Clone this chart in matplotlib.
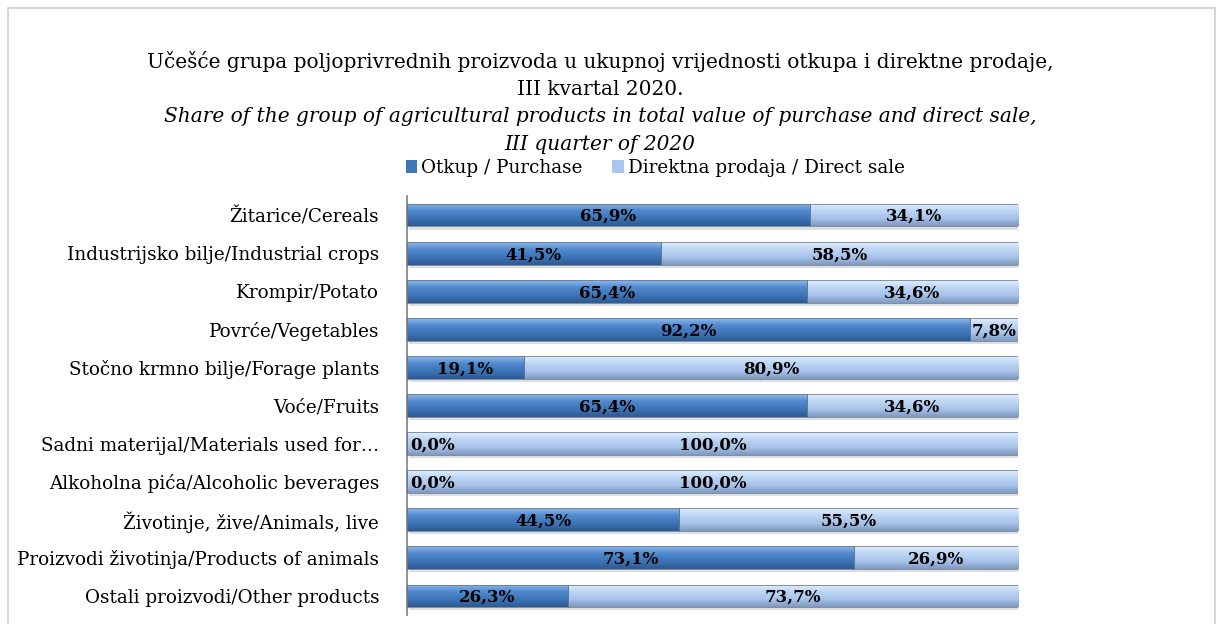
import numpy as np
import matplotlib
matplotlib.use('Agg')
import matplotlib.pyplot as plt
from matplotlib.patches import Rectangle
from matplotlib.colors import LinearSegmentedColormap

categories = ['Žitarice/Cereals', 'Industrijsko bilje/Industrial crops', 'Krompir/Potato',
              'Povrće/Vegetables', 'Stočno krmno bilje/Forage plants', 'Voće/Fruits',
              'Sadni materijal/Materials used for…', 'Alkoholna pića/Alcoholic beverages',
              'Životinje, žive/Animals, live', 'Proizvodi životinja/Products of animals',
              'Ostali proizvodi/Other products']
purchase = [65.9, 41.5, 65.4, 92.2, 19.1, 65.4, 0.0, 0.0, 44.5, 73.1, 26.3]
direct = [34.1, 58.5, 34.6, 7.8, 80.9, 34.6, 100.0, 100.0, 55.5, 26.9, 73.7]

plt.rcParams['font.family'] = ['DejaVu Serif']


def fmt(v):
    return ('%.1f%%' % v).replace('.', ',')


fig = plt.figure(figsize=(12.24, 6.24), dpi=100)
fig.patches.append(Rectangle((8/1224, -0.01), 1207/1224, 1 - 8/624 + 0.01,
                             transform=fig.transFigure, fill=False,
                             edgecolor='#d0d0d0', linewidth=1.2))

ax = fig.add_axes([407/1224, 1 - 615/624, 611/1224, 419/624])
y = np.arange(len(categories))
c1 = '#3f76b8'
c2 = '#a9c6ec'
h = 0.6
b1 = ax.barh(y, purchase, height=h, color=c1, edgecolor='none', label='Otkup / Purchase')
b2 = ax.barh(y, direct, left=purchase, height=h, color=c2, edgecolor='none',
             label='Direktna prodaja / Direct sale')

# bevel-like shading, light on top, dark at the bottom
cm1 = LinearSegmentedColormap.from_list('d', ['#8fb8ea', '#4f88cc', '#3d74b6', '#2d5a92'])
cm2 = LinearSegmentedColormap.from_list('l', ['#e2eefc', '#bcd5f4', '#a7c2e8', '#7e99c0'])
grad = np.linspace(0, 1, 64).reshape(-1, 1)
for bars, cm in [(b1, cm1), (b2, cm2)]:
    for p in bars:
        if p.get_width() <= 0:
            continue
        x0, y0 = p.get_x(), p.get_y()
        ax.add_patch(Rectangle((x0 + 0.3, y0 + 0.08), p.get_width(), p.get_height(),
                               color='#c8c8c8', alpha=0.6, zorder=1, linewidth=0))
        im = ax.imshow(grad, cmap=cm, aspect='auto', interpolation='bicubic',
                       extent=[x0, x0 + p.get_width(), y0 + p.get_height(), y0],
                       zorder=2)
        im.set_clip_path(p)
        ax.add_patch(Rectangle((x0, y0), p.get_width(), p.get_height(), fill=False,
                               edgecolor='#5a6f8c', linewidth=0.5, zorder=3))

for i in range(len(categories)):
    if purchase[i] < 1:
        ax.text(0.6, y[i] + 0.04, fmt(purchase[i]), ha='left', va='center',
                fontsize=12, fontweight='bold', zorder=5)
    else:
        ax.text(purchase[i] / 2, y[i] + 0.04, fmt(purchase[i]),
                ha='center', va='center', fontsize=12, fontweight='bold', zorder=5)
    ax.text(purchase[i] + direct[i] / 2, y[i] + 0.04, fmt(direct[i]),
            ha='center', va='center', fontsize=12, fontweight='bold', zorder=5)

ax.set_xlim(0, 100)
ax.set_ylim(len(categories) - 0.5, -0.5)
ax.set_yticks(y)
ax.set_yticklabels(categories, fontsize=13.2)
ax.tick_params(axis='y', length=0, pad=20)
ax.set_xticks([])
for s in ['top', 'right', 'bottom']:
    ax.spines[s].set_visible(False)
ax.spines['left'].set_color('#808080')
ax.spines['left'].set_linewidth(1.2)

tx = 600 / 1224
fig.text(tx, 1 - 68/624, 'Učešće grupa poljoprivrednih proizvoda u ukupnoj vrijednosti otkupa i direktne prodaje,',
         ha='center', va='baseline', fontsize=14.5)
fig.text(tx, 1 - 95/624, 'III kvartal 2020.', ha='center', va='baseline', fontsize=14.5)
fig.text(tx, 1 - 122/624, 'Share of the group of agricultural products in total value of purchase and direct sale,',
         ha='center', va='baseline', fontsize=14.5, style='italic')
fig.text(tx, 1 - 150/624, 'III quarter of 2020', ha='center', va='baseline', fontsize=14.5, style='italic')

fig.legend(handles=[b1, b2], loc='center', bbox_to_anchor=(655/1224, 1 - 168/624), ncol=2,
           frameon=False, fontsize=13.2, handlelength=0.65, handleheight=0.65,
           handletextpad=0.2, columnspacing=1.6)

fig.savefig('out.png', dpi=100)
